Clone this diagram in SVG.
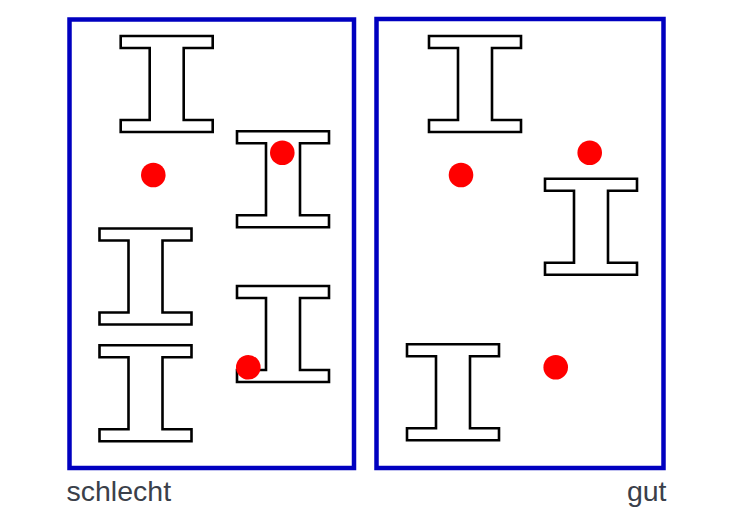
<svg xmlns="http://www.w3.org/2000/svg" width="751" height="517" viewBox="0 0 751 517">
<style>
.frame{fill:#fff;stroke:#0000c0;stroke-width:4.5}
.beam{fill:#fff;stroke:#000;stroke-width:2.6;stroke-linejoin:miter}
.dot{fill:#ff0000}
.lbl{font-family:"Liberation Sans",Arial,sans-serif;font-size:28.5px;fill:#3a404a}
</style>
<defs>
<path id="ibeam" d="M0,0 H92 V12 H63 V84 H92 V96 H0 V84 H29 V12 H0 Z"/>
</defs>
<rect width="751" height="517" fill="#fff"/>
<g id="schlecht-panel">
<rect class="frame" x="69.5" y="19.5" width="284.5" height="448.5"/>
<g id="beam-l1"><use href="#ibeam" class="beam" x="120.7" y="36"/></g>
<g id="beam-l2"><use href="#ibeam" class="beam" x="237" y="131.3"/></g>
<g id="beam-l3"><use href="#ibeam" class="beam" x="99.5" y="228.5"/></g>
<g id="beam-l4"><use href="#ibeam" class="beam" x="99.5" y="345.3"/></g>
<g id="beam-l5"><use href="#ibeam" class="beam" x="237" y="286"/></g>
<g id="dot-l1"><circle class="dot" cx="153.3" cy="175" r="12.3"/></g>
<g id="dot-l2"><circle class="dot" cx="282.3" cy="152.7" r="12.3"/></g>
<g id="dot-l3"><circle class="dot" cx="248.3" cy="367.3" r="12.3"/></g>
<text class="lbl" x="66.5" y="501">schlecht</text>
</g>
<g id="gut-panel">
<rect class="frame" x="376.5" y="19" width="287" height="449"/>
<g id="beam-r1"><use href="#ibeam" class="beam" x="429" y="36"/></g>
<g id="beam-r2"><use href="#ibeam" class="beam" x="545" y="178.7"/></g>
<g id="beam-r3"><use href="#ibeam" class="beam" x="407" y="344.3"/></g>
<g id="dot-r1"><circle class="dot" cx="461" cy="175" r="12.3"/></g>
<g id="dot-r2"><circle class="dot" cx="589.7" cy="152.7" r="12.3"/></g>
<g id="dot-r3"><circle class="dot" cx="555.7" cy="367.3" r="12.3"/></g>
<text class="lbl" x="666.5" y="501" text-anchor="end">gut</text>
</g>
<g id="connectors"></g>
</svg>
